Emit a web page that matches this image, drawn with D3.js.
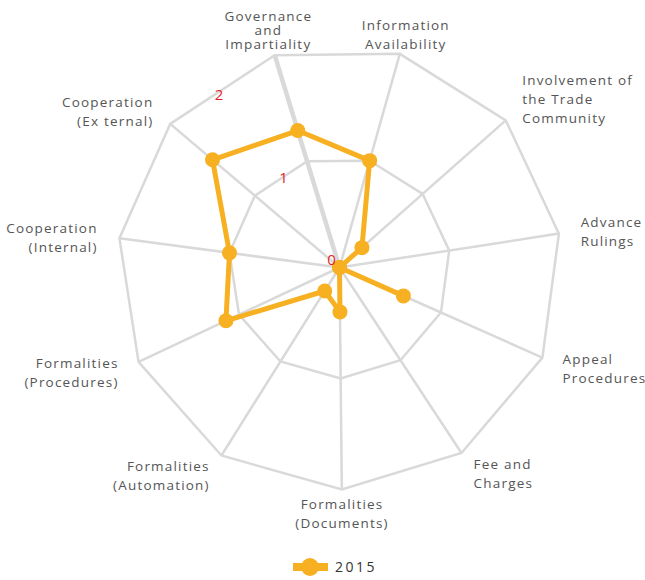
<!DOCTYPE html>
<html>
<head>
<meta charset="utf-8">
<script src="https://cdn.jsdelivr.net/npm/d3@7"></script>
<style>
    body { margin: 0; background: #fff; }
    text { font-family: "Open Sans", sans-serif; }
</style>
</head>
<body>
<div id="chart"></div>
<script>
// 数据
var axes = [
    ["Governance", "and", "Impartiality"],
    ["Information", "Availability"],
    ["Involvement of", "the Trade", "Community"],
    ["Advance", "Rulings"],
    ["Appeal", "Procedures"],
    ["Fee and", "Charges"],
    ["Formalities", "(Documents)"],
    ["Formalities", "(Automation)"],
    ["Formalities", "(Procedures)"],
    ["Cooperation", "(Internal)"],
    ["Cooperation", "(Ex ternal)"]
];
var values2015 = [1.29, 1.0, 0.27, 0, 0.63, 0, 0.4, 0.25, 1.13, 1.0, 1.5];
var levels = [0, 1, 2];
var seriesName = "2015";

var width = 645, height = 580;
var cx = 339.5, cy = 267.5, radius = 222;
var color = "#f6b021";

var svg = d3.select("#chart").append("svg")
    .attr("width", width)
    .attr("height", height);

var g = svg.append("g")
    .attr("transform", "translate(" + cx + "," + cy + ")");

var n = axes.length;
var step = 2 * Math.PI / n;
var startAngle = -step / 2 - 0.6 * Math.PI / 180;

var angle = d3.scaleLinear().domain([0, n]).range([startAngle, startAngle + 2 * Math.PI]);
var r = d3.scaleLinear().domain([0, d3.max(levels)]).range([0, radius]);

function px(i, v) { return r(v) * Math.sin(angle(i)); }
function py(i, v) { return -r(v) * Math.cos(angle(i)); }

// 网格
levels.filter(l => l > 0).forEach(function (l) {
    var pts = d3.range(n).map(i => [px(i, l), py(i, l)]);
    g.append("path")
        .attr("d", d3.line().curve(d3.curveLinearClosed)(pts))
        .attr("fill", "none")
        .attr("stroke", "#d9d9d9")
        .attr("stroke-width", 2.5);
});

// 轴线
g.selectAll(".spoke")
    .data(d3.range(n))
    .enter().append("line")
    .attr("class", "spoke")
    .attr("x1", 0).attr("y1", 0)
    .attr("x2", i => px(i, d3.max(levels)))
    .attr("y2", i => py(i, d3.max(levels)))
    .attr("stroke", "#d9d9d9")
    .attr("stroke-width", i => i === 0 ? 4.5 : 2.5);

// 数据线
var pts = values2015.map((v, i) => [px(i, v), py(i, v)]);
g.append("path")
    .attr("d", d3.line().curve(d3.curveLinearClosed)(pts))
    .attr("fill", "none")
    .attr("stroke", color)
    .attr("stroke-width", 5)
    .attr("stroke-linejoin", "round");

g.selectAll(".dot")
    .data(values2015)
    .enter().append("circle")
    .attr("class", "dot")
    .attr("cx", (v, i) => px(i, v))
    .attr("cy", (v, i) => py(i, v))
    .attr("r", 7.5)
    .attr("fill", color);

// 刻度标签
var midAngle = startAngle - step / 2;
function labelAngle(l) { return midAngle + (3.95 - 2.75 * l) * Math.PI / 180; }
g.selectAll(".level-label")
    .data(levels)
    .enter().append("text")
    .attr("class", "level-label")
    .attr("x", l => l === 0 ? -8 : r(l) * 0.95 * Math.sin(labelAngle(l)))
    .attr("y", l => l === 0 ? -8 : -r(l) * 0.95 * Math.cos(labelAngle(l)))
    .attr("dy", "0.35em")
    .attr("text-anchor", "middle")
    .attr("fill", "#e41e26")
    .style("font-size", "15px")
    .text(l => l);

// 轴标签
axes.forEach(function (lines, i) {
    var a = angle(i);
    var s = Math.sin(a), c = Math.cos(a);
    var x = (radius + 22) * s;
    var y = -(radius + 22) * c;
    var anchor = Math.abs(s) < 0.35 ? "middle" : (s > 0 ? "start" : "end");
    var lh = i === 0 ? 14 : 19;
    var shift = i === 0 ? -4 : (lines.length > 2 ? -7 : 2);
    var top = y + shift - (lines.length - 1) * lh / 2;
    var t = g.append("text")
        .attr("text-anchor", anchor)
        .attr("fill", "#555")
        .style("font-size", "13.5px")
        .style("letter-spacing", "1.2px");
    lines.forEach(function (s2, k) {
        t.append("tspan")
            .attr("x", x)
            .attr("y", top + k * lh)
            .attr("dy", "0.35em")
            .text(s2);
    });
});

// 图例
var legend = svg.append("g").attr("transform", "translate(310,567)");
legend.append("line")
    .attr("x1", -17).attr("x2", 18)
    .attr("y1", 0).attr("y2", 0)
    .attr("stroke", color)
    .attr("stroke-width", 8);
legend.append("circle")
    .attr("r", 9)
    .attr("fill", color);
legend.append("text")
    .attr("x", 25)
    .attr("dy", "0.35em")
    .attr("fill", "#333")
    .style("font-size", "14px")
    .style("letter-spacing", "2.5px")
    .text(seriesName);
</script>
</body>
</html>
